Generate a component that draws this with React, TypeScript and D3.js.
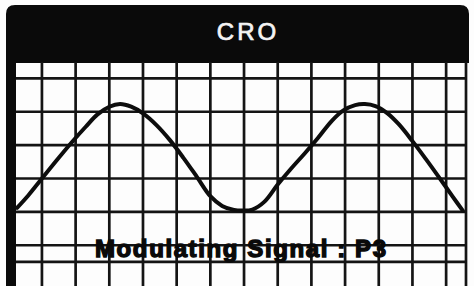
import React, { useRef, useEffect } from 'react';
import * as d3 from 'd3';

// signal trace: time in divisions, amplitude in divisions
const traceTime = [0.26, 0.6, 1.0, 1.5, 1.9, 2.3, 2.65, 3.0, 3.32, 3.65, 4.0, 4.4, 4.8, 5.2, 5.6, 6.0, 6.35, 6.7, 6.97, 7.25, 7.6, 8.0, 8.4, 8.8, 9.2, 9.6, 9.95, 10.3, 10.59, 10.9, 11.25, 11.6, 12.0, 12.4, 12.8, 13.2, 13.5];
const traceAmp = [0.12, 0.5, 1.0, 1.62, 2.1, 2.55, 2.92, 3.15, 3.23, 3.15, 2.95, 2.6, 2.15, 1.62, 1.05, 0.47, 0.18, 0.06, 0.04, 0.07, 0.3, 0.82, 1.3, 1.75, 2.22, 2.72, 3.04, 3.2, 3.23, 3.17, 2.96, 2.62, 2.12, 1.58, 1.02, 0.45, 0.03];

// graticule
const vDivs = [1, 2, 3, 4, 5, 6, 7, 8, 9, 10, 11, 12, 13];
const hDivs = [4, 3, 2, 1, 0, -1, -1.5];

const title = 'CRO';
const caption = 'Modulating Signal :  P3';

const W = 474;
const H = 286;

const App = () => {
  const svgRef = useRef<SVGSVGElement>(null);

  useEffect(() => {
    const svg = d3.select(svgRef.current).attr('width', W).attr('height', H).html('');

    // --- Frame geometry ---
    const frame = { left: 6, border: 16, right: 466, top: 5, header: 62, bottom: H };

    const x = d3.scaleLinear().domain([0.23, 13.59]).range([frame.border, frame.right]);
    const y = d3.scaleLinear().domain([-2.22, 4.49]).range([frame.bottom, frame.header]);

    svg.append('rect').attr('width', W).attr('height', H).attr('fill', '#fdfdfd');

    // header band with rounded top corners
    const r = 9;
    const hx0 = frame.left, hx1 = frame.right + 3, hy0 = frame.top, hy1 = frame.header + 1;
    svg.append('path')
      .attr('d', `M${hx0},${hy1} V${hy0 + r} Q${hx0},${hy0} ${hx0 + r},${hy0} H${hx1 - r} Q${hx1},${hy0} ${hx1},${hy0 + r} V${hy1} Z`)
      .attr('fill', '#0a0a0a');

    // left thick border
    svg.append('rect')
      .attr('x', frame.left).attr('y', hy0 + r)
      .attr('width', frame.border - frame.left).attr('height', H - hy0 - r)
      .attr('fill', '#0a0a0a');

    svg.append('text')
      .attr('x', 248).attr('y', 40)
      .attr('text-anchor', 'middle')
      .attr('fill', '#f4f4f4')
      .attr('stroke', '#f4f4f4')
      .attr('stroke-width', 0.7)
      .attr('font-family', '"Liberation Sans", Arial, sans-serif')
      .attr('font-size', 24)
      .attr('letter-spacing', 3)
      .text(title);

    // --- Graticule ---
    const g = svg.append('g').attr('stroke', '#141414').attr('stroke-width', 2.7);
    g.selectAll('.v').data(vDivs).enter().append('line')
      .attr('x1', d => x(d)).attr('x2', d => x(d))
      .attr('y1', frame.header).attr('y2', frame.bottom);
    g.selectAll('.h').data(hDivs).enter().append('line')
      .attr('x1', frame.border).attr('x2', frame.right + 1)
      .attr('y1', d => y(d)).attr('y2', d => y(d));
    g.append('line')
      .attr('x1', frame.right).attr('x2', frame.right)
      .attr('y1', frame.header).attr('y2', frame.bottom);

    // --- Trace ---
    const pts = traceTime.map((t, i) => [t, traceAmp[i]] as [number, number]);
    const line = d3.line<[number, number]>()
      .x(d => x(d[0]))
      .y(d => y(d[1]))
      .curve(d3.curveCatmullRom.alpha(0.5));
    svg.append('path')
      .attr('d', line(pts))
      .attr('fill', 'none')
      .attr('stroke', '#0d0d0d')
      .attr('stroke-width', 4)
      .attr('stroke-linecap', 'round');

    // --- Caption ---
    svg.append('text')
      .attr('x', 95).attr('y', 257)
      .attr('textLength', 291)
      .attr('lengthAdjust', 'spacing')
      .attr('fill', '#0a0a0a')
      .attr('stroke', '#0a0a0a')
      .attr('stroke-width', 1.4)
      .attr('font-family', '"Liberation Sans", Arial, sans-serif')
      .attr('font-weight', 'bold')
      .attr('font-size', 24)
      .text(caption);
  }, []);

  return (
    <div style={{ position: 'absolute', left: 0, top: 0 }}>
      <svg ref={svgRef} style={{ display: 'block' }}></svg>
    </div>
  );
};

export default App;
